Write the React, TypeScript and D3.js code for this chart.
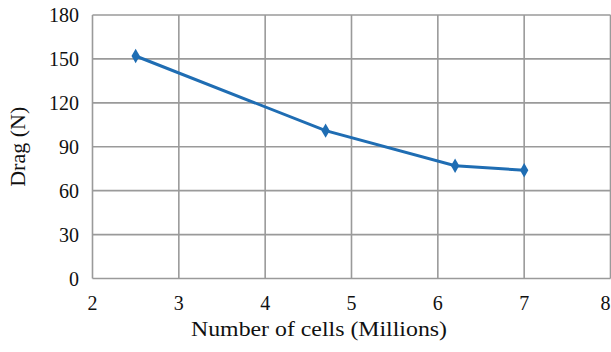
import React from "react";
import * as d3 from "d3";

const cells = [2.5, 4.7, 6.2, 7.0];
const drag = [152, 101, 77, 74];
const xTicks = [2, 3, 4, 5, 6, 7, 8];
const yTicks = [0, 30, 60, 90, 120, 150, 180];

const W = 611;
const H = 352;
const M = { left: 92.5, right: 0.5, top: 15, bottom: 73.5 };
const FONT = "'Liberation Serif', 'Times New Roman', serif";

export default function App() {
  const x = d3.scaleLinear().domain([2, 8]).range([M.left, W - M.right]);
  const y = d3.scaleLinear().domain([0, 180]).range([H - M.bottom, M.top]);
  const line = d3
    .line<number>()
    .x((_, i) => x(cells[i]))
    .y((d) => y(d));
  const diamond = d3.symbol().type(d3.symbolDiamond).size(60)();

  return (
    <svg
      width={W}
      height={H}
      style={{ position: "absolute", left: 0, top: 0, background: "#fff" }}
    >
      <g stroke="#9a9a9a" strokeWidth={1.6}>
        {xTicks.map((t) => (
          <line key={"gx" + t} x1={x(t)} x2={x(t)} y1={y(180)} y2={y(0)} />
        ))}
        {yTicks.map((t) => (
          <line key={"gy" + t} x1={x(2)} x2={x(8)} y1={y(t)} y2={y(t)} />
        ))}
      </g>
      {yTicks.map((t) => (
        <text
          key={"ty" + t}
          x={79}
          y={y(t)}
          dy="0.35em"
          textAnchor="end"
          fontFamily={FONT}
          fontSize={20}
          fill="#111"
        >
          {t}
        </text>
      ))}
      {xTicks.map((t) => (
        <text
          key={"tx" + t}
          x={t === 8 ? x(t) - 5 : x(t)}
          y={303}
          dy="0.35em"
          textAnchor="middle"
          fontFamily={FONT}
          fontSize={20}
          fill="#111"
        >
          {t}
        </text>
      ))}
      <path d={line(drag) ?? ""} fill="none" stroke="#1f6db3" strokeWidth={3} />
      {drag.map((d, i) => (
        <path
          key={"m" + i}
          d={diamond ?? ""}
          transform={`translate(${x(cells[i])},${y(d)})`}
          fill="#1f6db3"
        />
      ))}
      <text
        x={319}
        y={336}
        textAnchor="middle"
        fontFamily={FONT}
        fontSize={22}
        textLength={256}
        lengthAdjust="spacingAndGlyphs"
        fill="#111"
      >
        Number of cells (Millions)
      </text>
      <text
        transform={`translate(17,${(y(0) + y(180)) / 2}) rotate(-90)`}
        dy="0.35em"
        textAnchor="middle"
        fontFamily={FONT}
        fontSize={22}
        fill="#111"
      >
        Drag (N)
      </text>
    </svg>
  );
}
